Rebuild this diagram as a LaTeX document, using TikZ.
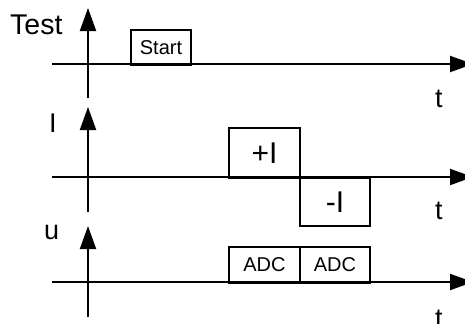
\documentclass[tikz,border=0pt]{standalone}
\usepackage{fontspec}
\setmainfont{Liberation Sans}
\usetikzlibrary{arrows.meta}
\begin{document}
\begin{tikzpicture}[x=1bp,y=-1bp,
  axis/.style={line width=2bp,-{Triangle[length=23bp,width=16bp]}},
  pulse/.style={draw,line width=2bp,inner sep=0pt,anchor=north west},
  biglabel/.style={font=\fontsize{27bp}{30bp}\selectfont,inner sep=0pt,anchor=base west},
  tlabel/.style={font=\fontsize{27bp}{30bp}\selectfont,inner sep=0pt,anchor=base west},
  curtext/.style={font=\fontsize{30bp}{33bp}\selectfont},
  smalltext/.style={font=\fontsize{20bp}{23bp}\selectfont}]
\useasboundingbox (0,0) rectangle (465,323);
\clip (0,0) rectangle (465,323);
% Panel 1: Test
\coordinate (v1b) at (88,98);
\coordinate (v1t) at (88,8);
\coordinate (h1l) at (52,64);
\coordinate (h1r) at (473,64);
\draw[axis] (v1b) -- (v1t);
\draw[axis] (h1l) -- (h1r);
\node[biglabel,font=\fontsize{28.5bp}{31bp}\selectfont] (ltest) at (10,34) {Test};
\node[tlabel] (t1) at (435,107) {t};
\node[pulse,smalltext,minimum width=60bp,minimum height=35bp] (start) at (130,29) {Start};
% Panel 2: I
\coordinate (v2b) at (88,212);
\coordinate (v2t) at (88,107);
\coordinate (h2l) at (52,177);
\coordinate (h2r) at (473,177);
\draw[axis] (v2b) -- (v2t);
\draw[axis] (h2l) -- (h2r);
\node[biglabel] (li) at (49,132) {I};
\node[tlabel] (t2) at (435,219) {t};
\node[pulse,curtext,minimum width=71bp,minimum height=50bp] (pi) at (228,127) {+I};
\node[pulse,curtext,minimum width=70bp,minimum height=48bp] (mi) at (299,177) {-I};
% Panel 3: u
\coordinate (v3b) at (88,317);
\coordinate (v3t) at (88,226);
\coordinate (h3l) at (52,282);
\coordinate (h3r) at (473,282);
\draw[axis] (v3b) -- (v3t);
\draw[axis] (h3l) -- (h3r);
\node[biglabel] (lu) at (44,239) {u};
\node[tlabel] (t3) at (435,327) {t};
\node[pulse,smalltext,minimum width=71bp,minimum height=36bp] (adc1) at (228,246) {ADC};
\node[pulse,smalltext,minimum width=70bp,minimum height=36bp] (adc2) at (299,246) {ADC};
\end{tikzpicture}
\end{document}
